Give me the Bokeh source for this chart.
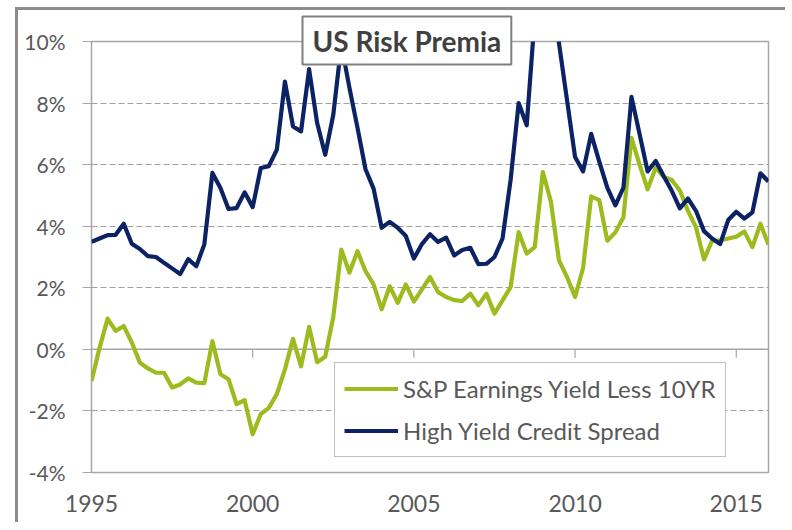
from bokeh.plotting import figure
from bokeh.models import Range1d, FixedTicker, PrintfTickFormatter, Span, Legend, LegendItem
from bokeh.embed import file_html
from bokeh.resources import INLINE

# ---- data (quarterly, starting 1995) ----
hy_spread = [3.49, 3.60, 3.71, 3.72, 4.08, 3.43, 3.26, 3.03, 3.00, 2.81,
             2.63, 2.45, 2.93, 2.70, 3.41, 5.73, 5.24, 4.56, 4.59, 5.10,
             4.62, 5.89, 5.95, 6.49, 8.70, 7.24, 7.08, 9.10, 7.35, 6.32,
             7.62, 9.90, 8.50, 7.20, 5.85, 5.22, 3.95, 4.14, 3.95, 3.68,
             2.95, 3.42, 3.74, 3.49, 3.63, 3.05, 3.23, 3.30, 2.77, 2.78,
             3.00, 3.60, 5.50, 8.00, 7.28, 10.80, 17.00, 15.00, 9.95, 8.10,
             6.25, 5.78, 7.00, 6.10, 5.25, 4.68, 5.25, 8.20, 7.00, 5.78,
             6.12, 5.62, 5.15, 4.58, 4.90, 4.50, 3.84, 3.60, 3.42, 4.20,
             4.47, 4.25, 4.45, 5.72, 5.45]

sp_earn_yield_less_10yr = [-1.03, 0.05, 1.00, 0.60, 0.76, 0.22, -0.43, -0.62, -0.76, -0.76,
                           -1.24, -1.14, -0.94, -1.08, -1.10, 0.27, -0.81, -0.97, -1.78, -1.65,
                           -2.76, -2.10, -1.90, -1.45, -0.65, 0.34, -0.55, 0.73, -0.42, -0.24,
                           1.05, 3.24, 2.49, 3.19, 2.54, 2.11, 1.30, 2.05, 1.51, 2.11,
                           1.55, 1.95, 2.35, 1.86, 1.70, 1.60, 1.57, 1.81, 1.43, 1.81,
                           1.16, 1.59, 2.02, 3.81, 3.11, 3.32, 5.76, 4.80, 2.89, 2.35,
                           1.70, 2.65, 4.97, 4.85, 3.53, 3.80, 4.29, 6.87, 6.00, 5.20,
                           5.90, 5.60, 5.50, 5.16, 4.50, 3.97, 2.92, 3.53, 3.54, 3.60,
                           3.66, 3.83, 3.32, 4.08, 3.40]

quarters = [1995 + q / 4 for q in range(len(hy_spread))]

x_ticks = [1995, 2000, 2005, 2010, 2015]
y_ticks = [-4, -2, 0, 2, 4, 6, 8, 10]

title_text = "US Risk Premia"
label_sp = "S&P Earnings Yield Less 10YR"
label_hy = "High Yield Credit Spread"

GREEN = "#9bbb1f"
NAVY = "#0b2265"
TXT = "#595959"
GRID = "#a6a6a6"
FONT = "Lato"

p = figure(width=770, height=515, output_backend="svg", toolbar_location=None,
           x_range=Range1d(1995, 2016), y_range=Range1d(-4, 10),
           min_border_left=73, min_border_right=20, min_border_top=31, min_border_bottom=53,
           styles={"margin-left": "15px", "margin-top": "7px",
                   "border-left": "3px solid #8c8c8c", "border-top": "3px solid #8c8c8c"})
p.background_fill_color = "white"
p.border_fill_color = "white"
p.outline_line_color = GRID
p.outline_line_width = 1.5

# title box
p.title.text = title_text
p.title.text_font = FONT
p.title.text_font_style = "bold"
p.title.text_font_size = "28px"
p.title.text_color = "#404040"
p.title.align = "left"
p.title.offset = 211
p.title.standoff = -46
p.title.background_fill_color = "white"
p.title.border_line_color = "#7f7f7f"
p.title.border_line_width = 2
p.title.padding = (10, 7)

# y axis
p.yaxis.ticker = FixedTicker(ticks=y_ticks)
p.yaxis.formatter = PrintfTickFormatter(format="%d%%")
p.yaxis.axis_line_color = None
p.yaxis.major_tick_out = 9
p.yaxis.major_tick_in = 0
p.yaxis.major_tick_line_color = GRID
p.yaxis.minor_tick_line_color = None
p.yaxis.major_label_standoff = 17
p.yaxis.major_label_text_font = FONT
p.yaxis.major_label_text_font_size = "21px"
p.yaxis.major_label_text_color = TXT

# x axis
p.xaxis.ticker = FixedTicker(ticks=x_ticks)
p.xaxis.axis_line_color = None
p.xaxis.major_tick_line_color = None
p.xaxis.minor_tick_line_color = None
p.xaxis.major_label_standoff = 16
p.xaxis.major_label_text_font = FONT
p.xaxis.major_label_text_font_size = "23px"
p.xaxis.major_label_text_color = TXT

# grid
p.xgrid.grid_line_color = None
p.ygrid.grid_line_color = "#a0a0a0"
p.ygrid.grid_line_dash = "6 3"
p.ygrid.grid_line_width = 1

# zero line with ticks
zero = Span(location=0, dimension="width", line_color=GRID, line_width=1.5, level="underlay")
p.add_layout(zero)
p.segment(x0=x_ticks, y0=[0] * len(x_ticks), x1=x_ticks, y1=[-0.27] * len(x_ticks),
          line_color=GRID, line_width=1.2, level="underlay")

r_sp = p.line(quarters, sp_earn_yield_less_10yr, line_color=GREEN, line_width=4.2,
              line_join="round")
r_hy = p.line(quarters, hy_spread, line_color=NAVY, line_width=4.2, line_join="round")

legend = Legend(items=[LegendItem(label=label_sp, renderers=[r_sp]),
                       LegendItem(label=label_hy, renderers=[r_hy])],
                location=(243, 15), orientation="vertical",
                label_text_font=FONT, label_text_font_size="24px", label_text_color=TXT,
                glyph_width=54, glyph_height=33, label_height=33, label_standoff=5,
                spacing=9, padding=9, margin=0,
                border_line_color="#7f7f7f", border_line_width=1.5,
                background_fill_color="white", background_fill_alpha=1.0)
p.add_layout(legend)

open("out.html", "w").write(file_html(p, INLINE))
